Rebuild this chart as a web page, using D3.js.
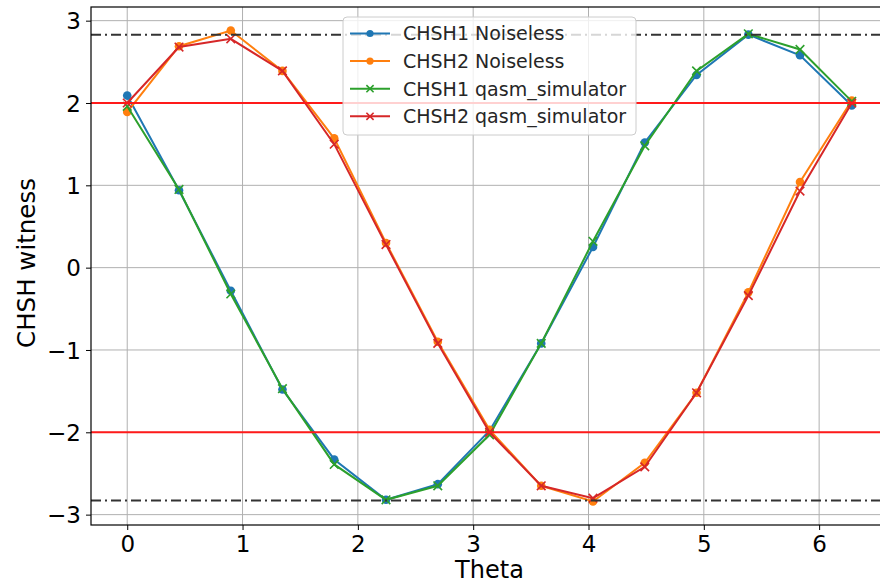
<!DOCTYPE html>
<html>
<head>
<meta charset="utf-8">
<script src="https://cdn.jsdelivr.net/npm/d3@7"></script>
<style>
  body { margin: 0; background: #fff; }
  svg { display: block; font-family: "DejaVu Sans", sans-serif; }
</style>
</head>
<body>
<div id="chart"></div>
<script>
// theta = linspace(0, 2*pi, 15)
var theta = [0, 0.449, 0.898, 1.346, 1.795, 2.244, 2.693, 3.142, 3.590, 4.039, 4.488, 4.937, 5.386, 5.834, 6.283];

var chsh1Noiseless = [2.09, 0.94, -0.28, -1.48, -2.33, -2.82, -2.63, -1.98, -0.92, 0.25, 1.52, 2.34, 2.83, 2.58, 1.97];
var chsh2Noiseless = [1.89, 2.69, 2.88, 2.39, 1.57, 0.30, -0.90, -1.97, -2.65, -2.84, -2.37, -1.52, -0.30, 1.04, 2.03];
var chsh1Qasm = [1.96, 0.95, -0.32, -1.47, -2.39, -2.82, -2.65, -2.03, -0.92, 0.32, 1.48, 2.39, 2.84, 2.65, 2.02];
var chsh2Qasm = [2.00, 2.68, 2.78, 2.39, 1.50, 0.28, -0.92, -2.00, -2.65, -2.80, -2.42, -1.52, -0.34, 0.93, 2.00];

var classicalBound = [2, -2];
var quantumBound = [2 * Math.SQRT2, -2 * Math.SQRT2];

var xTicks = [0, 1, 2, 3, 4, 5, 6];
var yTicks = [-3, -2, -1, 0, 1, 2, 3];

var series = [
  { name: "CHSH1 Noiseless", values: chsh1Noiseless, color: "#1f77b4", marker: "o" },
  { name: "CHSH2 Noiseless", values: chsh2Noiseless, color: "#ff7f0e", marker: "o" },
  { name: "CHSH1 qasm_simulator", values: chsh1Qasm, color: "#2ca02c", marker: "x" },
  { name: "CHSH2 qasm_simulator", values: chsh2Qasm, color: "#d62728", marker: "x" }
];

var width = 880, height = 584;
var plotLeft = 91, plotRight = 888, plotTop = 7, plotBottom = 525;

var svg = d3.select("#chart").append("svg")
  .attr("width", width)
  .attr("height", height);

// matplotlib style 5% margins
var xMin = d3.min(theta), xMax = d3.max(theta);
var xPad = (xMax - xMin) * 0.05;
var allY = chsh1Noiseless.concat(chsh2Noiseless, chsh1Qasm, chsh2Qasm);
var yMin = d3.min(allY), yMax = d3.max(allY);
var yPad = (yMax - yMin) * 0.05;

var x = d3.scaleLinear().domain([xMin - xPad, xMax + xPad]).range([plotLeft, plotRight]);
var y = d3.scaleLinear().domain([yMin - yPad, yMax + yPad]).range([plotBottom, plotTop]);

// grid
var grid = svg.append("g");
grid.selectAll("line.gx").data(xTicks).enter().append("line")
  .attr("x1", d => x(d)).attr("x2", d => x(d))
  .attr("y1", plotTop).attr("y2", plotBottom)
  .attr("stroke", "#b0b0b0").attr("stroke-width", 1);
grid.selectAll("line.gy").data(yTicks).enter().append("line")
  .attr("x1", plotLeft).attr("x2", plotRight)
  .attr("y1", d => y(d)).attr("y2", d => y(d))
  .attr("stroke", "#b0b0b0").attr("stroke-width", 1);

// data lines
var line = d3.line()
  .x(function(d, i) { return x(theta[i]); })
  .y(function(d) { return y(d); });

var plot = svg.append("g");
series.forEach(function(s) {
  plot.append("path")
    .attr("d", line(s.values))
    .attr("fill", "none")
    .attr("stroke", s.color)
    .attr("stroke-width", 2);
  drawMarkers(plot, s, s.values.map(function(v, i) { return [x(theta[i]), y(v)]; }), 4.3);
});

function drawMarkers(g, s, pts, r) {
  if (s.marker === "o") {
    g.selectAll(null).data(pts).enter().append("circle")
      .attr("cx", d => d[0]).attr("cy", d => d[1])
      .attr("r", r)
      .attr("fill", s.color);
  } else {
    var m = r;
    g.selectAll(null).data(pts).enter().append("path")
      .attr("d", d => "M" + (d[0] - m) + "," + (d[1] - m) + "L" + (d[0] + m) + "," + (d[1] + m) +
                      "M" + (d[0] - m) + "," + (d[1] + m) + "L" + (d[0] + m) + "," + (d[1] - m))
      .attr("stroke", s.color)
      .attr("stroke-width", 1.6)
      .attr("fill", "none");
  }
}

// bounds
svg.selectAll("line.qb").data(quantumBound).enter().append("line")
  .attr("x1", plotLeft).attr("x2", plotRight)
  .attr("y1", d => y(d)).attr("y2", d => y(d))
  .attr("stroke", "#333").attr("stroke-width", 2)
  .attr("stroke-dasharray", "10,4,2,4");
svg.selectAll("line.cb").data(classicalBound).enter().append("line")
  .attr("x1", plotLeft).attr("x2", plotRight)
  .attr("y1", d => y(d)).attr("y2", d => y(d))
  .attr("stroke", "#ff1a1a").attr("stroke-width", 2);

// axes
var fmt = d3.format("d");
var xAxis = svg.append("g")
  .attr("transform", "translate(0," + plotBottom + ")")
  .call(d3.axisBottom(x).tickValues(xTicks).tickFormat(fmt).tickSize(5).tickPadding(6));
var yAxis = svg.append("g")
  .attr("transform", "translate(" + plotLeft + ",0)")
  .call(d3.axisLeft(y).tickValues(yTicks).tickFormat(fmt).tickSize(5).tickPadding(5));
[xAxis, yAxis].forEach(function(a) {
  a.select(".domain").remove();
  a.selectAll("text").attr("font-size", 23).attr("fill", "#000")
    .attr("font-family", "DejaVu Sans, sans-serif");
  a.selectAll("line").attr("stroke", "#000");
});
yAxis.selectAll("text").attr("dy", "0.36em");

// frame
svg.append("rect")
  .attr("x", plotLeft).attr("y", plotTop)
  .attr("width", plotRight - plotLeft).attr("height", plotBottom - plotTop)
  .attr("fill", "none").attr("stroke", "#000").attr("stroke-width", 1.2);

// labels
svg.append("text")
  .attr("x", (plotLeft + plotRight) / 2).attr("y", 578)
  .attr("text-anchor", "middle").attr("font-size", 24)
  .text("Theta");
svg.append("text")
  .attr("transform", "translate(35,263) rotate(-90)")
  .attr("text-anchor", "middle").attr("font-size", 24.5)
  .text("CHSH witness");

// legend
var lg = svg.append("g").attr("transform", "translate(343,17)");
lg.append("rect")
  .attr("width", 293).attr("height", 118).attr("rx", 4)
  .attr("fill", "#fff").attr("fill-opacity", 0.8)
  .attr("stroke", "#cccccc").attr("stroke-width", 1);
series.forEach(function(s, i) {
  var yy = 16.5 + i * 27.6;
  lg.append("line")
    .attr("x1", 7).attr("x2", 47).attr("y1", yy).attr("y2", yy)
    .attr("stroke", s.color).attr("stroke-width", 2);
  drawMarkers(lg, s, [[27, yy]], 3.6);
  lg.append("text")
    .attr("x", 60).attr("y", yy).attr("dy", "0.36em")
    .attr("font-size", 19).attr("fill", "#262626")
    .text(s.name);
});
</script>
</body>
</html>
